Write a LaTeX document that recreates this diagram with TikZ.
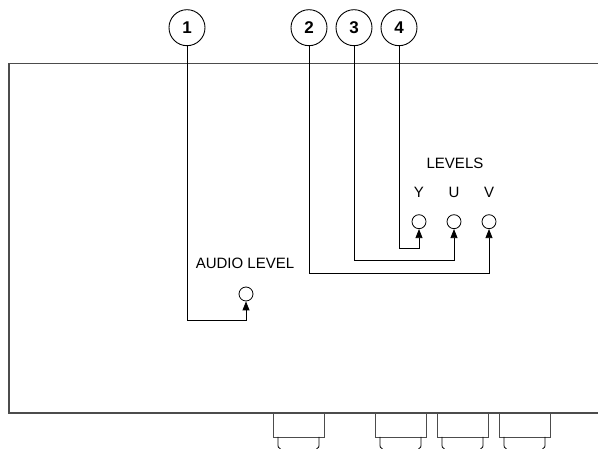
\documentclass[tikz,border=0pt]{standalone}
\usepackage{fontspec}
\setmainfont{Liberation Sans}
\usetikzlibrary{arrows.meta}
\tikzset{
  callout/.style={draw,circle,minimum size=36pt,inner sep=0pt,line width=0.9pt,font=\fontsize{17}{17}\selectfont\bfseries},
  knob/.style={draw,circle,minimum size=14pt,inner sep=0pt,line width=0.8pt},
  lead/.style={line width=0.8pt,-{Triangle[length=9pt,width=7pt]}},
  panel/.style={line width=1.1pt,black!70},
  label/.style={font=\fontsize{15}{15}\selectfont}
}
\begin{document}
\begin{tikzpicture}[x=1pt,y=1pt]
    \useasboundingbox (0,0) rectangle (598,449);
    % front panel
    \draw[panel] (598,385.7) -- (9,385.7) -- (9,36) -- (598,36);
    \foreach \x in {273,375,437,499} {
        \draw[panel,line width=0.9pt] (\x,36) -- (\x,12) -- (\x+51,12) -- (\x+51,36);
        \draw[line width=0.8pt] (\x+5,12) -- (\x+5,6) .. controls (\x+5,1.5) .. (\x+7.5,0);
        \draw[line width=0.8pt] (\x+46,12) -- (\x+46,6) .. controls (\x+46,1.5) .. (\x+43.5,0);
    }
    % controls
    \node[label] (levels) at (455,286) {LEVELS};
    \node[label] (ly) at (419,257) {Y};
    \node[label] (lu) at (454,257) {U};
    \node[label] (lv) at (489,257) {V};
    \node[label] (audiolbl) at (245,186) {AUDIO LEVEL};
    \node[knob] (ky) at (419,227.3) {};
    \node[knob] (ku) at (454,227.3) {};
    \node[knob] (kv) at (489,227.3) {};
    \node[knob] (ka) at (246,155) {};
    % callouts
    \node[callout] (c1) at (187,421.3) {1};
    \node[callout] (c2) at (309,421.3) {2};
    \node[callout] (c3) at (354,421.3) {3};
    \node[callout] (c4) at (399,421.3) {4};
    \coordinate (b1) at (246,129);
    \coordinate (b2) at (489,176);
    \coordinate (b3) at (454,189);
    \coordinate (b4) at (419,201);
    \draw[lead] (c1) |- (b1) -- (ka);
    \draw[lead] (c2) |- (b2) -- (kv);
    \draw[lead] (c3) |- (b3) -- (ku);
    \draw[lead] (c4) |- (b4) -- (ky);
\end{tikzpicture}
\end{document}
